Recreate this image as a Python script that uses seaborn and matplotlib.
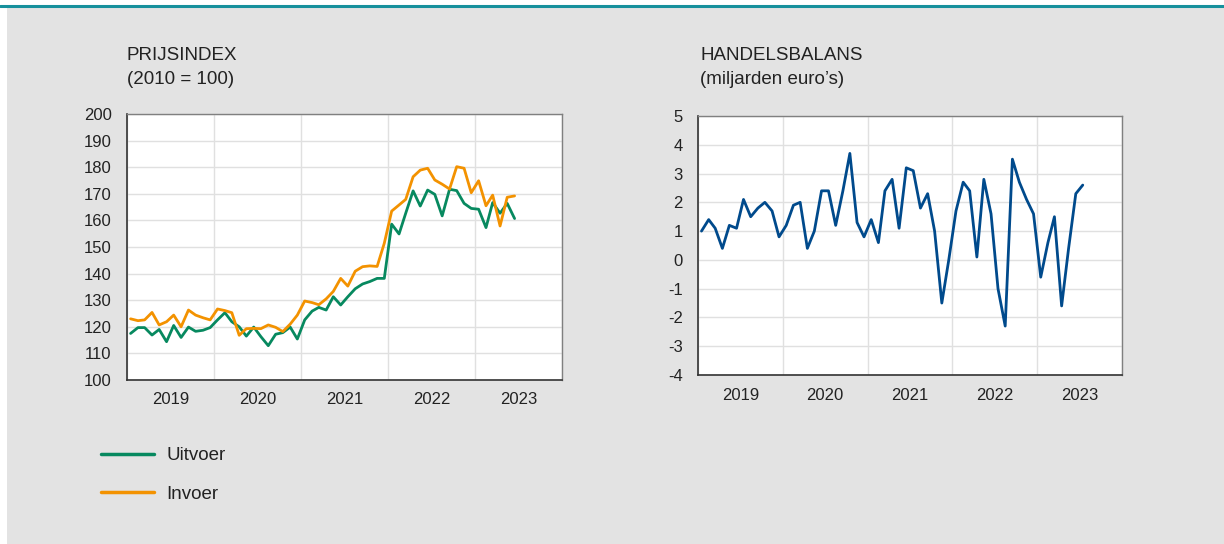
import numpy as np
import pandas as pd
import matplotlib
matplotlib.use("Agg")
import matplotlib.pyplot as plt
import matplotlib.dates as mdates
import seaborn as sns

# ---------------- data ----------------
uitvoer = [117.5, 119.7, 119.7, 116.9, 119.0, 114.4, 120.5, 116.0, 119.9, 118.3, 118.7, 119.7,
           122.6, 125.3, 121.9, 120.0, 116.5, 119.9, 116.3, 112.9, 117.2, 117.8, 119.9, 115.4,
           122.6, 125.9, 127.3, 126.3, 131.3, 128.2, 131.3, 134.3, 136.1, 137.0, 138.2, 138.2,
           158.6, 154.9, 162.7, 171.1, 165.4, 171.4, 169.8, 161.7, 171.7, 171.2, 166.4, 164.5,
           164.2, 157.3, 166.7, 162.7, 166.4, 160.7]
invoer = [123.0, 122.3, 122.6, 125.4, 120.7, 121.9, 124.4, 120.0, 126.3, 124.4, 123.4, 122.6,
          126.7, 126.1, 125.3, 116.8, 119.3, 119.4, 119.3, 120.7, 119.8, 118.2, 121.0, 124.4,
          129.7, 129.1, 128.3, 130.5, 133.3, 138.2, 135.3, 140.9, 142.6, 142.9, 142.7, 151.4,
          163.5, 165.8, 167.9, 176.4, 178.9, 179.6, 175.2, 173.6, 171.8, 180.2, 179.6, 170.4,
          174.9, 165.5, 169.5, 157.9, 168.7, 169.2]
handelsbalans = [1.0, 1.4, 1.1, 0.4, 1.2, 1.1, 2.1, 1.5, 1.8, 2.0, 1.7, 0.8,
                 1.2, 1.9, 2.0, 0.4, 1.0, 2.4, 2.4, 1.2, 2.4, 3.7, 1.3, 0.8,
                 1.4, 0.6, 2.4, 2.8, 1.1, 3.2, 3.1, 1.8, 2.3, 1.0, -1.5, 0.0,
                 1.7, 2.7, 2.4, 0.1, 2.8, 1.6, -1.0, -2.3, 3.5, 2.7, 2.1, 1.6,
                 -0.6, 0.6, 1.5, -1.6, 0.4, 2.3, 2.6]
series_names = ["Uitvoer", "Invoer"]
year_labels = ["2019", "2020", "2021", "2022", "2023"]
left_title = "PRIJSINDEX\n(2010 = 100)"
right_title = "HANDELSBALANS\n(miljarden euro’s)"
left_yticks = list(range(100, 201, 10))
right_yticks = list(range(-4, 6, 1))

# ---------------- style ----------------
GREEN = "#07895f"
ORANGE = "#f39200"
BLUE = "#004a8c"
BG = "#e3e3e3"
TEXT = "#222222"

sns.set_style("white")
plt.rcParams["font.family"] = ["Liberation Sans", "DejaVu Sans"]
plt.rcParams["text.color"] = TEXT
plt.rcParams["axes.labelcolor"] = TEXT
plt.rcParams["xtick.color"] = TEXT
plt.rcParams["ytick.color"] = TEXT

def month_dates(n):
    return pd.date_range("2019-01-01", periods=n, freq="MS") + pd.Timedelta(days=15)

df_prijs = pd.DataFrame({
    "datum": list(month_dates(len(uitvoer))) * 2,
    "waarde": uitvoer + invoer,
    "reeks": [series_names[0]] * len(uitvoer) + [series_names[1]] * len(invoer),
})
df_bal = pd.DataFrame({"datum": month_dates(len(handelsbalans)), "waarde": handelsbalans})

fig = plt.figure(figsize=(12.24, 5.44), dpi=100)
fig.patch.set_facecolor("white")
# grey panel and teal top rule
fig.patches.append(plt.Rectangle((7 / 1224, 0.0), 1.0, 1 - 7 / 544, transform=fig.transFigure,
                                 facecolor=BG, edgecolor="none", zorder=-10))
fig.add_artist(plt.Line2D([0, 1], [1 - 6 / 544, 1 - 6 / 544], transform=fig.transFigure,
                          color="#16909c", linewidth=2.2))

ax1 = fig.add_axes([127 / 1224, 1 - 380 / 544, 435 / 1224, 266 / 544])
ax2 = fig.add_axes([698 / 1224, 1 - 375 / 544, 424 / 1224, 259 / 544])

sns.lineplot(data=df_prijs, x="datum", y="waarde", hue="reeks",
             palette={series_names[0]: GREEN, series_names[1]: ORANGE},
             linewidth=2.0, ax=ax1, zorder=3)
sns.lineplot(data=df_bal, x="datum", y="waarde", color=BLUE, linewidth=2.0, ax=ax2, zorder=3)

def style_axes(ax, yticks):
    ax.set_facecolor("white")
    ax.set_xlim(pd.Timestamp("2019-01-01"), pd.Timestamp("2024-01-01"))
    ax.set_ylim(yticks[0], yticks[-1])
    ax.set_yticks(yticks)
    ax.set_yticklabels([str(t) for t in yticks])
    ax.xaxis.set_major_locator(mdates.YearLocator())
    ax.xaxis.set_major_formatter(plt.NullFormatter())
    ax.set_xticks([pd.Timestamp(f"{y}-07-02") for y in year_labels], minor=True)
    ax.set_xticklabels(year_labels, minor=True)
    ax.tick_params(axis="x", which="major", direction="inout", length=8, width=1.0, color="#333333")
    ax.tick_params(axis="x", which="minor", length=0, pad=9, labelsize=12)
    ax.tick_params(axis="y", which="major", direction="out", length=5, width=1.0, color="#333333",
                   pad=6, labelsize=12)
    ax.grid(True, which="major", axis="both", color="#e0e0e0", linewidth=1.0, zorder=0)
    ax.set_axisbelow(True)
    for s in ["left", "bottom"]:
        ax.spines[s].set_color("#333333")
        ax.spines[s].set_linewidth(1.2)
    for s in ["top", "right"]:
        ax.spines[s].set_color("#808080")
        ax.spines[s].set_linewidth(1.0)
    ax.set_xlabel("")
    ax.set_ylabel("")

style_axes(ax1, left_yticks)
style_axes(ax2, right_yticks)

fig.text(127 / 1224, 1 - 47 / 544, left_title, ha="left", va="top",
         fontsize=13.5, linespacing=1.55)
fig.text(700 / 1224, 1 - 47 / 544, right_title, ha="left", va="top",
         fontsize=13.5, linespacing=1.55)

handles, labels = ax1.get_legend_handles_labels()
if ax1.get_legend() is not None:
    ax1.get_legend().remove()
for h in handles:
    h.set_linewidth(2.5)
fig.legend(handles, labels, loc="upper left", bbox_to_anchor=(101 / 1224, 1 - 447 / 544),
           frameon=False, fontsize=13.5, handlelength=2.8, handletextpad=0.7,
           labelspacing=1.15, borderpad=0, borderaxespad=0)

fig.savefig("out.png", dpi=100, facecolor=fig.get_facecolor())
